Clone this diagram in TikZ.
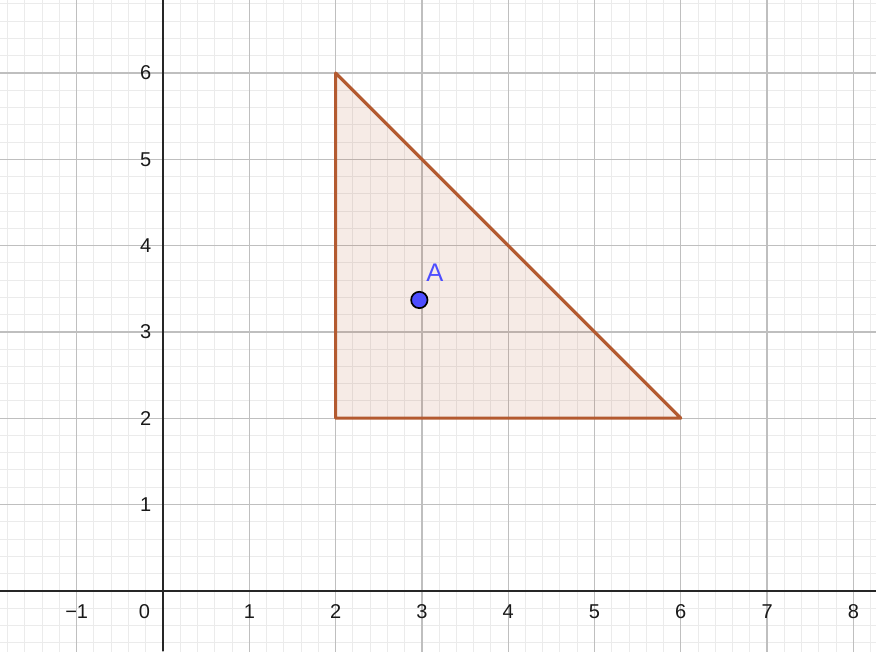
\documentclass[tikz,border=0pt]{standalone}
\usepackage{fontspec}
\setmainfont{Liberation Sans}
\begin{document}
\begin{tikzpicture}[x=1cm,y=1cm,
  minorgrid/.style={draw=black!8,line width=0.33pt},
  majorgrid/.style={draw=black!25,line width=0.45pt},
  axisline/.style={draw=black!85,line width=0.75pt},
  tri/.style={draw=triB,line width=1pt,fill=triB,fill opacity=0.12,line join=round},
  lab/.style={font=\fontsize{6.6}{8}\selectfont,text=black!90,inner sep=0pt},
  ]
\definecolor{triB}{RGB}{179,90,48}
\definecolor{ptB}{RGB}{77,77,255}
\useasboundingbox (-1.889,-0.701) rectangle (8.262,6.846);
\clip (-1.889,-0.701) rectangle (8.262,6.846);
% minor grid
\draw[minorgrid] (-2,-0.8) grid[step=0.2] (8.4,7);
% major grid
\draw[majorgrid] (-2,-1) grid[step=1] (8.4,7);
% filled triangle
\coordinate (P) at (2,6);
\coordinate (Q) at (2,2);
\coordinate (R) at (6,2);
\draw[tri] (P) -- (Q) -- (R) -- cycle;
% axes
\coordinate (xl) at (-1.889,0);
\coordinate (xr) at (8.262,0);
\coordinate (yb) at (0,-0.701);
\coordinate (yt) at (0,6.846);
\draw[axisline] (xl) -- (xr);
\draw[axisline] (yb) -- (yt);
% x labels
\foreach \i/\t in {-1/{−1},1/1,2/2,3/3,4/4,5/5,6/6,7/7,8/8}{
  \node[lab] (xlab\i) at (\i,-0.245) {\t};
}
\node[lab] (zero) at (-0.215,-0.245) {0};
% y labels
\foreach \j in {1,...,6}{
  \node[lab,anchor=east] (ylab\j) at (-0.13,\j) {\j};
}
% point A
\node[circle,draw=black,line width=0.55pt,fill=ptB,minimum size=0.19cm,inner sep=0pt] (A) at (2.97,3.37) {};
\node[font=\fontsize{8.4}{10}\selectfont,text=ptB,inner sep=0pt] (Alab) at (3.15,3.69) {A};
\end{tikzpicture}
\end{document}
